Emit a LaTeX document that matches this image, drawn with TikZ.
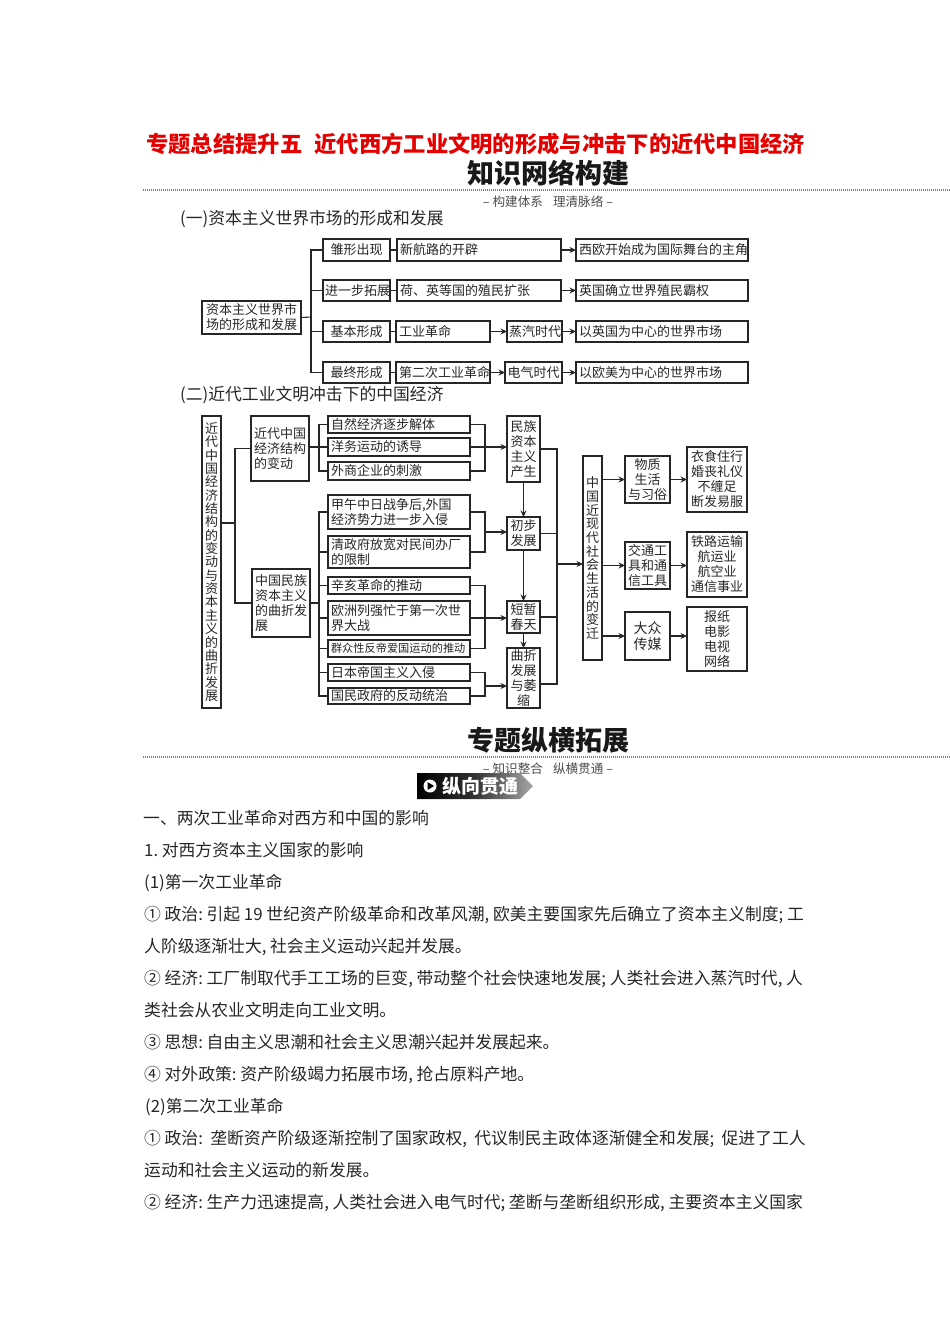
\documentclass[tikz,border=0pt]{standalone}
\usepackage{fontspec}
\usepackage{xcolor}
\setmainfont{Noto Sans CJK SC}
\usetikzlibrary{arrows.meta,positioning}
\newcommand{\pgap}{\hspace{0.22em}}

\begin{document}
\begin{tikzpicture}[
  x=1pt, y=-1pt,
  cbox/.style 2 args={rectangle, draw=black!85, line width=1.2pt, anchor=north west, outer sep=0pt,
    inner xsep=2pt, inner ysep=0pt, minimum width=#1pt, minimum height=#2pt, text width=#1pt-4pt,
    align=center, font=\fontsize{13}{15}\selectfont, text=black!85},
  lbox/.style 2 args={cbox={#1}{#2}, inner xsep=3pt, text width=#1pt-6pt, align=left},
  vbox/.style 2 args={cbox={#1}{#2}, inner xsep=0pt, text width=15pt},
  arr/.style={-{Stealth[length=6.5pt,width=6pt]}, line width=1.1pt, black!85},
  link/.style={line width=1.1pt, black!85},
  rule/.style={line width=2.2pt, black!50, dash pattern=on 1pt off 1pt},
  maintitle/.style={font=\fontsize{22.3}{24}\selectfont\bfseries, text=red!90!black, anchor=west, inner sep=0pt},
  bigtitle/.style={font=\fontsize{27}{30}\selectfont\bfseries, text=black!90, inner sep=0pt},
  subtitle/.style={font=\fontsize{12.6}{14}\selectfont, text=black!70, inner sep=0pt},
  bodyline/.style={font=\fontsize{16.8}{18}\selectfont, text=black!85, anchor=base west, inner sep=0pt}
]
\useasboundingbox (0,0) rectangle (950,1344);

% headings
\node[maintitle] (title) at (146,144) {专题总结提升五\hspace{0.55em}近代西方工业文明的形成与冲击下的近代中国经济};
\node[bigtitle] (head1) at (548,173) {知识网络构建};
\coordinate (ruleAl) at (143,190);
\coordinate (ruleAr) at (950,190);
\draw[rule] (ruleAl) -- (ruleAr);
\node[subtitle] (sub1) at (548,202) {– 构建体系\hspace{0.8em}理清脉络 –};
\node[bodyline] (sec1) at (180,224) {(一)资本主义世界市场的形成和发展};

% first tree
\node[cbox={99}{33}] (root) at (202,301) {资本主义世界市\\场的形成和发展};
\node[cbox={67}{22}] (rise) at (323,239) {雏形出现};
\node[cbox={67}{21}] (grow) at (323,280) {进一步拓展};
\node[cbox={67}{21}] (base) at (323,321) {基本形成};
\node[cbox={67}{21}] (last) at (323,362) {最终形成};
\node[lbox={164}{22}] (route) at (397,239) {新航路的开辟};
\node[lbox={164}{21}] (colony) at (397,280) {荷、英等国的殖民扩张};
\node[lbox={94}{21}] (indone) at (396,321) {工业革命};
\node[lbox={94}{21}] (indtwo) at (396,362) {第二次工业革命};
\node[cbox={55}{21}] (steam) at (507,321) {蒸汽时代};
\node[cbox={57}{21}] (electric) at (505,362) {电气时代};
\node[lbox={172}{22}] (westeu) at (576,239) {西欧开始成为国际舞台的主角};
\node[lbox={172}{21}] (britain) at (576,280) {英国确立世界殖民霸权};
\node[lbox={172}{21}] (ukmarket) at (576,321) {以英国为中心的世界市场};
\node[lbox={172}{21}] (usmarket) at (576,362) {以欧美为中心的世界市场};
\coordinate (hubT) at (311,317);
\draw[link] (root.east) -- (hubT);
\draw[link] (rise.west) -| (hubT) |- (last.west);
\draw[link] (grow.west) -- (grow.west -| hubT);
\draw[link] (base.west) -- (base.west -| hubT);
\draw[link] (rise) -- (route);
\draw[link] (grow) -- (colony);
\draw[link] (base) -- (indone);
\draw[link] (last) -- (indtwo);
\draw[arr] (route) -- (westeu);
\draw[arr] (colony) -- (britain);
\draw[arr] (indone) -- (steam);
\draw[arr] (steam) -- (ukmarket);
\draw[arr] (indtwo) -- (electric);
\draw[arr] (electric) -- (usmarket);

\node[bodyline] (sec2) at (180,400) {(二)近代工业文明冲击下的中国经济};

% second tree
\node[vbox={19}{292}, font=\fontsize{13}{13.35}\selectfont] (outer) at (202,416) {近\\代\\中\\国\\经\\济\\结\\构\\的\\变\\动\\与\\资\\本\\主\\义\\的\\曲\\折\\发\\展};
\node[lbox={58}{65}] (struct) at (251,416) {近代中国\\经济结构\\的变动};
\node[lbox={58}{68}] (nation) at (252,569) {中国民族\\资本主义\\的曲折发\\展};
\node[lbox={142}{17}] (fa) at (328,416) {自然经济逐步解体};
\node[lbox={142}{18}] (fb) at (328,438) {洋务运动的诱导};
\node[lbox={142}{18}] (fc) at (328,462) {外商企业的刺激};
\node[lbox={142}{34}] (fd) at (328,495) {甲午中日战争后,外国\\经济势力进一步入侵};
\node[lbox={142}{32}] (fe) at (328,536) {清政府放宽对民间办厂\\的限制};
\node[lbox={142}{17}] (ff) at (328,577) {辛亥革命的推动};
\node[lbox={142}{34}] (fg) at (328,601) {欧洲列强忙于第一次世\\界大战};
\node[lbox={142}{17}, font=\fontsize{11.2}{13}\selectfont] (fh) at (328,640) {群众性反帝爱国运动的推动};
\node[lbox={142}{17}] (fi) at (328,664) {日本帝国主义入侵};
\node[lbox={142}{16}] (fj) at (328,688) {国民政府的反动统治};
\node[cbox={33}{66}] (birth) at (507,416) {民族\\资本\\主义\\产生};
\node[cbox={33}{33}] (early) at (507,517) {初步\\发展};
\node[cbox={33}{32}] (spring) at (507,601) {短暂\\春天};
\node[cbox={33}{60}] (decline) at (507,648) {曲折\\发展\\与萎\\缩};
\node[vbox={19}{204}, font=\fontsize{13}{13.7}\selectfont] (change) at (583,456) {中\\国\\近\\现\\代\\社\\会\\生\\活\\的\\变\\迁};
\node[cbox={45}{47}] (goods) at (625,456) {物质\\生活\\与习俗};
\node[cbox={45}{47}] (traffic) at (625,542) {交通工\\具和通\\信工具};
\node[cbox={45}{48}, font=\fontsize{14}{16}\selectfont] (media) at (625,612) {大众\\传媒};
\node[cbox={60}{65}] (custom) at (687,447) {衣食住行\\婚丧礼仪\\不缠足\\断发易服};
\node[cbox={60}{65}] (rail) at (687,532) {铁路运输\\航运业\\航空业\\通信事业};
\node[cbox={60}{64}] (press) at (687,607) {报纸\\电影\\电视\\网络};
\coordinate (hubO) at (235,523);
\coordinate (hubA) at (319,448);
\coordinate (hubB) at (319,602);
\coordinate (hubC) at (485,448);
\coordinate (hubD) at (485,532);
\coordinate (hubE) at (485,618);
\coordinate (hubF) at (485,686);
\coordinate (hubS) at (557,564);
\draw[link] (outer.east |- hubO) -- (hubO);
\draw[link] (struct.west) -| (hubO) |- (nation.west);
\draw[link] (fa.west) -| (hubA) |- (fc.west);
\draw[link] (fb.west -| struct.east) -- (fb.west);
\draw[link] (fd.west) -| (hubB) |- (fj.west);
\draw[link] (nation.east) -- (nation.east -| hubB);
\foreach \nm in {fe,ff,fg,fh,fi} {
  \draw[link] (\nm.west) -- (\nm.west -| hubB);
}
\draw[link] (fa.east) -| (hubC) |- (fc.east);
\draw[link] (fd.east) -| (hubD) |- (fe.east);
\draw[link] (ff.east) -| (hubE) |- (fh.east);
\draw[link] (fi.east) -| (hubF) |- (fj.east);
\draw[arr] (fb.east) -- (fb.east -| birth.west);
\draw[arr] (hubD) -- (hubD -| early.west);
\draw[arr] (fg.east) -- (fg.east -| spring.west);
\draw[arr] (hubF) -- (hubF -| decline.west);
\draw[arr] (birth) -- (early);
\draw[arr] (early) -- (spring);
\draw[arr] (spring) -- (decline);
\draw[link] (birth.east) -| (hubS) |- ([yshift=-6pt]decline.east);
\draw[link] (early.east) -- (early.east -| hubS);
\draw[link] (spring.east) -- (spring.east -| hubS);
\draw[arr] (hubS) -- (hubS -| change.west);
\draw[arr] (goods.west -| change.east) -- (goods.west);
\draw[arr] (traffic.west -| change.east) -- (traffic.west);
\draw[arr] (media.west -| change.east) -- (media.west);
\draw[arr] (goods.east) -- (goods.east -| custom.west);
\draw[arr] (traffic.east) -- (traffic.east -| rail.west);
\draw[arr] (media.east) -- (media.east -| press.west);

% second heading
\node[bigtitle] (head2) at (548,740) {专题纵横拓展};
\coordinate (ruleBl) at (143,757);
\coordinate (ruleBr) at (950,757);
\draw[rule] (ruleBl) -- (ruleBr);
\node[subtitle] (sub2) at (548,769) {– 知识整合\hspace{0.8em}纵横贯通 –};
\shade[left color=black, right color=black!35, middle color=black!80] (417,773) -- (520,773) -- (533,786) -- (520,799) -- (417,799) -- cycle;
\fill[white] (430,786) circle (6.5);
\fill[black] (427.5,782) -- (434,786) -- (427.5,790) -- cycle;
\node[font=\fontsize{19}{21}\selectfont\bfseries, text=white, inner sep=0pt, anchor=west] (tag) at (442,786) {纵向贯通};

% body text
\node[bodyline] (ln1) at (143,824) {一、两次工业革命对西方和中国的影响};
\node[bodyline] (ln2) at (144,856) {1.\pgap 对西方资本主义国家的影响};
\node[bodyline] (ln3) at (144,888) {(1)第一次工业革命};
\node[bodyline] (ln4) at (144,920) {①\pgap 政治:\pgap 引起\pgap 19\pgap 世纪资产阶级革命和改革风潮,\pgap 欧美主要国家先后确立了资本主义制度;\pgap 工};
\node[bodyline] (ln5) at (144,952) {人阶级逐渐壮大,\pgap 社会主义运动兴起并发展。};
\node[bodyline] (ln6) at (144,984) {②\pgap 经济:\pgap 工厂制取代手工工场的巨变,\pgap 带动整个社会快速地发展;\pgap 人类社会进入蒸汽时代,\pgap 人};
\node[bodyline] (ln7) at (144,1016) {类社会从农业文明走向工业文明。};
\node[bodyline] (ln8) at (144,1048) {③\pgap 思想:\pgap 自由主义思潮和社会主义思潮兴起并发展起来。};
\node[bodyline] (ln9) at (144,1080) {④\pgap 对外政策:\pgap 资产阶级竭力拓展市场,\pgap 抢占原料产地。};
\node[bodyline] (ln10) at (145,1112) {(2)第二次工业革命};
\node[bodyline] (ln11) at (144,1144) {①\pgap 政治:\pgap\pgap 垄断资产阶级逐渐控制了国家政权,\pgap\pgap 代议制民主政体逐渐健全和发展;\pgap\pgap 促进了工人};
\node[bodyline] (ln12) at (144,1176) {运动和社会主义运动的新发展。};
\node[bodyline] (ln13) at (144,1208) {②\pgap 经济:\pgap 生产力迅速提高,\pgap 人类社会进入电气时代;\pgap 垄断与垄断组织形成,\pgap 主要资本主义国家};
\end{tikzpicture}
\end{document}
